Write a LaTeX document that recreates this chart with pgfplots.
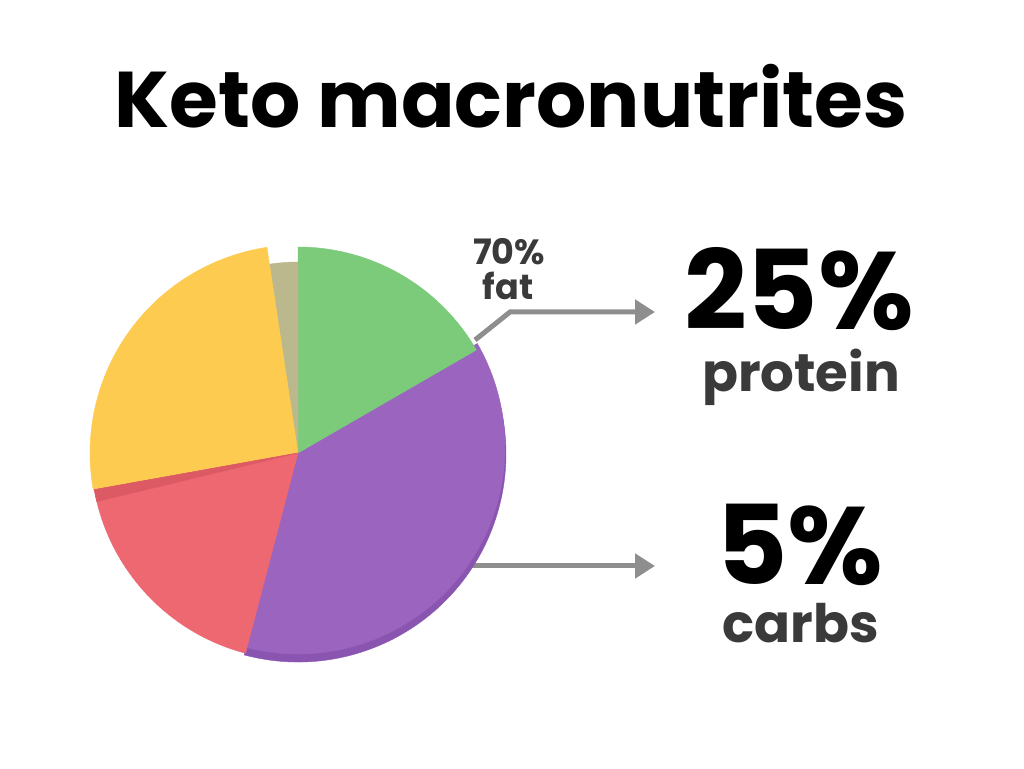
\documentclass[border=0pt]{standalone}
\usepackage{pgfplots}
\pgfplotsset{compat=1.18}
\usepackage{pgfplotstable}
\usepackage{fontspec}
\setmainfont{Poppins}
\usetikzlibrary{arrows.meta}
\definecolor{cgreen}{HTML}{7BCB7B}
\definecolor{cpurple}{HTML}{9B64BE}
\definecolor{cdpurple}{HTML}{8A55B0}
\definecolor{cred}{HTML}{EE6872}
\definecolor{cdred}{HTML}{DC5A64}
\definecolor{cyellow}{HTML}{FDCB4F}
\definecolor{ckhaki}{HTML}{BAB88C}
\definecolor{carrow}{HTML}{8E8E8E}
\definecolor{ctext}{HTML}{3A3A3A}
\newcommand\setslicecolor[1]{%
  \ifcase#1\relax
    \colorlet{sc}{cdpurple}\or
    \colorlet{sc}{cpurple}\or
    \colorlet{sc}{cgreen}\or
    \colorlet{sc}{ckhaki}\or
    \colorlet{sc}{cyellow}\or
    \colorlet{sc}{cred}\or
    \colorlet{sc}{cdred}\fi}

% slices: centre x, centre y, start angle, end angle, radius, colour index
\pgfplotstableread{
x   y   a1     a2     r    c
298 314 -105   30     208  0
298 321 -105   30     207  1
298 315 30     90     206  2
298 315 90     98.6   191  3
298 315 98.6   190.2  208  4
298 315 190.2  255.3  207  5
298 315 190.2  193.6  207  6
}\slices

\begin{document}
\begin{tikzpicture}
\begin{axis}[
  scale only axis, width=1024pt, height=768pt,
  xmin=0, xmax=1024, ymin=0, ymax=768,
  hide axis, clip=false,
]
\path[fill=white] (axis cs:0,0) rectangle (axis cs:1024,768);
\addplot[
  scatter, only marks, mark=*, mark size=0pt,
  mark options={draw=none, fill=none},
  visualization depends on={\thisrow{a1} \as \sa},
  visualization depends on={\thisrow{a2} \as \ea},
  visualization depends on={\thisrow{r} \as \rad},
  visualization depends on={\thisrow{c} \as \ci},
  scatter/@pre marker code/.code={%
    \pgfmathtruncatemacro\k{\ci}%
    \setslicecolor{\k}%
    \fill[sc] (0,0) -- (\sa:\rad pt) arc[start angle=\sa, end angle=\ea, radius=\rad pt] -- cycle;
  },
  scatter/@post marker code/.code={},
] table[x=x, y=y] {\slices};

\draw[carrow, line width=5pt, -{Triangle[length=20pt,width=24pt]}]
  (axis cs:475,428) -- (axis cs:510,456) -- (axis cs:655,456);
\draw[carrow, line width=5pt, -{Triangle[length=20pt,width=24pt]}]
  (axis cs:462,202) -- (axis cs:655,202);

\begin{scope}[every node/.style={inner sep=0pt, outer sep=0pt}]
\node[anchor=base, font=\fontsize{79}{79}\selectfont\bfseries] at (axis cs:511,640) {Keto macronutrites};
\node[anchor=base, text=ctext, font=\fontsize{35}{35}\selectfont\bfseries] at (axis cs:509,503) {70\%};
\node[anchor=base, text=ctext, font=\fontsize{35}{35}\selectfont\bfseries] at (axis cs:508,468) {fat};
\node[anchor=base, font=\fontsize{110}{110}\selectfont\bfseries] at (axis cs:799,438) {25\%};
\node[anchor=base, text=ctext, font=\fontsize{53}{53}\selectfont\bfseries] at (axis cs:801,376) {protein};
\node[anchor=base, font=\fontsize{110}{110}\selectfont\bfseries] at (axis cs:800,183) {5\%};
\node[anchor=base, text=ctext, font=\fontsize{53}{53}\selectfont\bfseries] at (axis cs:801,125) {carbs};
\end{scope}
\end{axis}
\end{tikzpicture}
\end{document}
